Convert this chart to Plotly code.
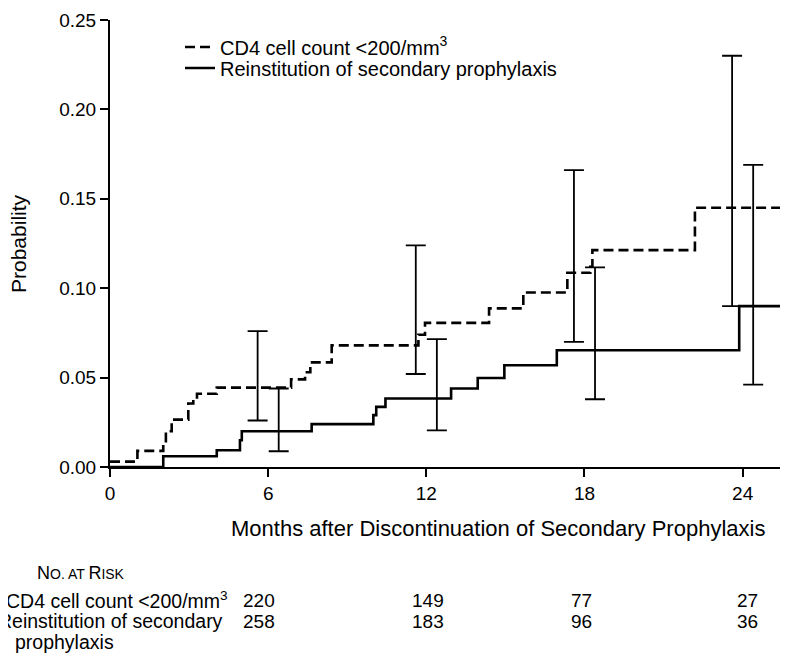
import numpy as np
import plotly.graph_objects as go

# ---------------- data ----------------
month_ticks = [0, 6, 12, 18, 24]
prob_ticks = [0.00, 0.05, 0.10, 0.15, 0.20, 0.25]

cd4_name = "CD4 cell count &lt;200/mm<sup>3</sup>"
rein_name = "Reinstitution of secondary prophylaxis"

cd4_time = [0, 1.04, 2.02, 2.12, 2.34, 2.97, 3.16, 3.30, 4.05, 6.87, 7.40, 7.60,
            8.41, 11.70, 11.95, 14.38, 15.68, 17.35, 18.22, 18.30, 22.19, 26.0]
cd4_prob = [0.003, 0.009, 0.013, 0.020, 0.0265, 0.0355, 0.038, 0.041, 0.0444, 0.049,
            0.053, 0.0585, 0.068, 0.074, 0.0806, 0.0887, 0.0976, 0.1086, 0.112,
            0.1213, 0.145, 0.145]

rein_time = [0, 2.02, 4.05, 4.93, 5.00, 7.65, 9.99, 10.10, 10.45, 12.94, 13.95,
             14.96, 16.95, 23.87, 26.0]
rein_prob = [0.0, 0.006, 0.0094, 0.015, 0.020, 0.024, 0.029, 0.0336, 0.0383,
             0.0439, 0.0498, 0.0569, 0.0653, 0.090, 0.090]

cd4_ci_time = [5.6, 11.6, 17.6, 23.6]
cd4_ci_low = [0.026, 0.052, 0.070, 0.090]
cd4_ci_high = [0.076, 0.124, 0.166, 0.230]

rein_ci_time = [6.4, 12.4, 18.4, 24.4]
rein_ci_low = [0.0088, 0.0205, 0.0379, 0.0461]
rein_ci_high = [0.0439, 0.0715, 0.1116, 0.169]

risk_title = "N<span style='font-size:14px'>O. AT </span>R<span style='font-size:14px'>ISK</span>"
risk_row_labels = ["CD4 cell count &lt;200/mm<sup>3</sup>", "Reinstitution of secondary"]
risk_row_label_cont = "prophylaxis"
cd4_at_risk = [220, 149, 77, 27]
rein_at_risk = [258, 183, 96, 36]

# ---------------- layout constants (pixels, in the 788x659 page frame) ----------------
OFF = 8                      # default page body margin
W, H = 788 - OFF, 659 - OFF  # figure size
X0, YTOP, YBOT = 110, 20, 467  # page px of plot left, top, bottom
L = X0 - OFF
T = YTOP - OFF
B = H - (YBOT - OFF)
R = 0
PW, PH = W - L - R, H - T - B
FONT = "Liberation Sans, Arial, Helvetica, sans-serif"


def px(xp):
    return (xp - X0) / PW


def py(yp):
    return (YBOT - yp) / PH


fig = go.Figure()

fig.add_trace(go.Scatter(
    x=cd4_time, y=cd4_prob, mode="lines", line_shape="hv", name=cd4_name,
    legend="legend",
    line=dict(color="black", width=2.6, dash="10px,5px")))
fig.add_trace(go.Scatter(
    x=rein_time, y=rein_prob, mode="lines", line_shape="hv", name=rein_name,
    legend="legend2",
    line=dict(color="black", width=2.6)))

for t, lo, hi in [(cd4_ci_time, cd4_ci_low, cd4_ci_high),
                  (rein_ci_time, rein_ci_low, rein_ci_high)]:
    lo = np.array(lo)
    hi = np.array(hi)
    fig.add_trace(go.Scatter(
        x=t, y=(lo + hi) / 2, mode="markers", showlegend=False, hoverinfo="skip",
        marker=dict(size=0.1, color="rgba(0,0,0,0)"),
        error_y=dict(type="data", array=(hi - lo) / 2, visible=True,
                     color="black", thickness=1.8, width=10)))

annotations = [
    dict(text="Months after Discontinuation of Secondary Prophylaxis",
         x=px(498), y=py(528), xref="paper", yref="paper", showarrow=False,
         xanchor="center", yanchor="middle", font=dict(size=22)),
    dict(text="Probability", x=px(18), y=py(244), xref="paper", yref="paper",
         showarrow=False, textangle=-90, xanchor="center", yanchor="middle",
         font=dict(size=21)),
    dict(text=risk_title, x=px(127), y=py(573), xref="paper", yref="paper",
         showarrow=False, xanchor="right", yanchor="middle", font=dict(size=18)),
    dict(text=risk_row_labels[0], x=px(230), y=py(600), xref="paper", yref="paper",
         showarrow=False, xanchor="right", yanchor="middle", font=dict(size=19.5)),
    dict(text=risk_row_labels[1], x=px(225), y=py(621), xref="paper", yref="paper",
         showarrow=False, xanchor="right", yanchor="middle", font=dict(size=19.5)),
    dict(text=risk_row_label_cont, x=px(13), y=py(642), xref="paper", yref="paper",
         showarrow=False, xanchor="left", yanchor="middle", font=dict(size=19.5)),
]
num_x = [241, 410, 569, 735]
for xp, a, b in zip(num_x, cd4_at_risk, rein_at_risk):
    annotations.append(dict(text=str(a), x=px(xp), y=py(600), xref="paper", yref="paper",
                            showarrow=False, xanchor="left", yanchor="middle",
                            font=dict(size=19)))
    annotations.append(dict(text=str(b), x=px(xp), y=py(621), xref="paper", yref="paper",
                            showarrow=False, xanchor="left", yanchor="middle",
                            font=dict(size=19)))

leg_common = dict(xanchor="left", yanchor="middle", bgcolor="rgba(0,0,0,0)",
                  font=dict(size=20), itemwidth=30, borderwidth=0)

fig.update_layout(
    width=W, height=H, autosize=False,
    margin=dict(l=L, r=R, t=T, b=B, pad=0),
    paper_bgcolor="white", plot_bgcolor="white",
    font=dict(family=FONT, size=19, color="black"),
    showlegend=True,
    legend=dict(x=px(180), y=py(47), **leg_common),
    legend2=dict(x=px(180), y=py(68), **leg_common),
    annotations=annotations,
    xaxis=dict(range=[0, (788 - X0) / 26.36], tickvals=month_ticks,
               ticktext=[str(v) for v in month_ticks], automargin=False,
               showline=True, linecolor="black", linewidth=2, ticks="outside",
               ticklen=8, tickwidth=2, tickcolor="black", showgrid=False,
               zeroline=False, tickfont=dict(size=19)),
    yaxis=dict(range=[0, 0.25], tickvals=prob_ticks, automargin=False,
               ticktext=["%.2f" % v for v in prob_ticks],
               showline=True, linecolor="black", linewidth=2, ticks="outside",
               ticklen=8, tickwidth=2, tickcolor="black", showgrid=False,
               zeroline=False, tickfont=dict(size=19)),
)

fig.write_html("out.html")
